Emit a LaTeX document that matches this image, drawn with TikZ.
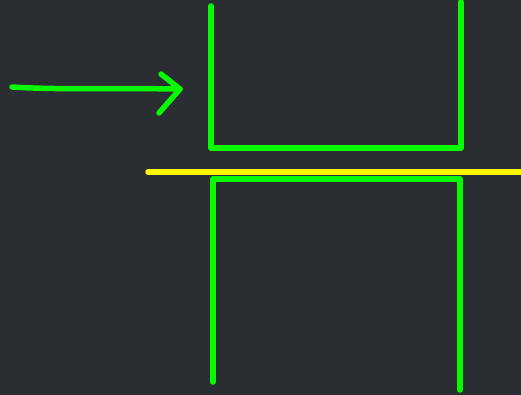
\documentclass[tikz,border=0pt]{standalone}
\usepackage{xcolor}
\usepackage{tikz}

\definecolor{board}{RGB}{42,45,50}
\definecolor{pen}{RGB}{8,250,0}
\definecolor{marker}{RGB}{252,248,0}

\begin{document}
\begin{tikzpicture}[x=1pt, y=-1pt, line width=5.5pt, line cap=round, line join=round]
    \fill[board] (0,0) rectangle (521,395);
    \useasboundingbox (0,0) rectangle (521,395);

    \coordinate (tail) at (12,87);
    \coordinate (tip) at (180,89);

    \draw[pen] (tail) .. controls (60,90) and (120,88) .. (tip);
    \draw[pen] (161,74) -- (tip) -- (159,113);

    \draw[pen] (211,6) -- (211,148) -- (461,148) -- (461,2);
    \draw[marker] (148,172) -- (530,172);
    \draw[pen] (213,382) -- (213,179) -- (460,179) -- (460,390);
\end{tikzpicture}
\end{document}
